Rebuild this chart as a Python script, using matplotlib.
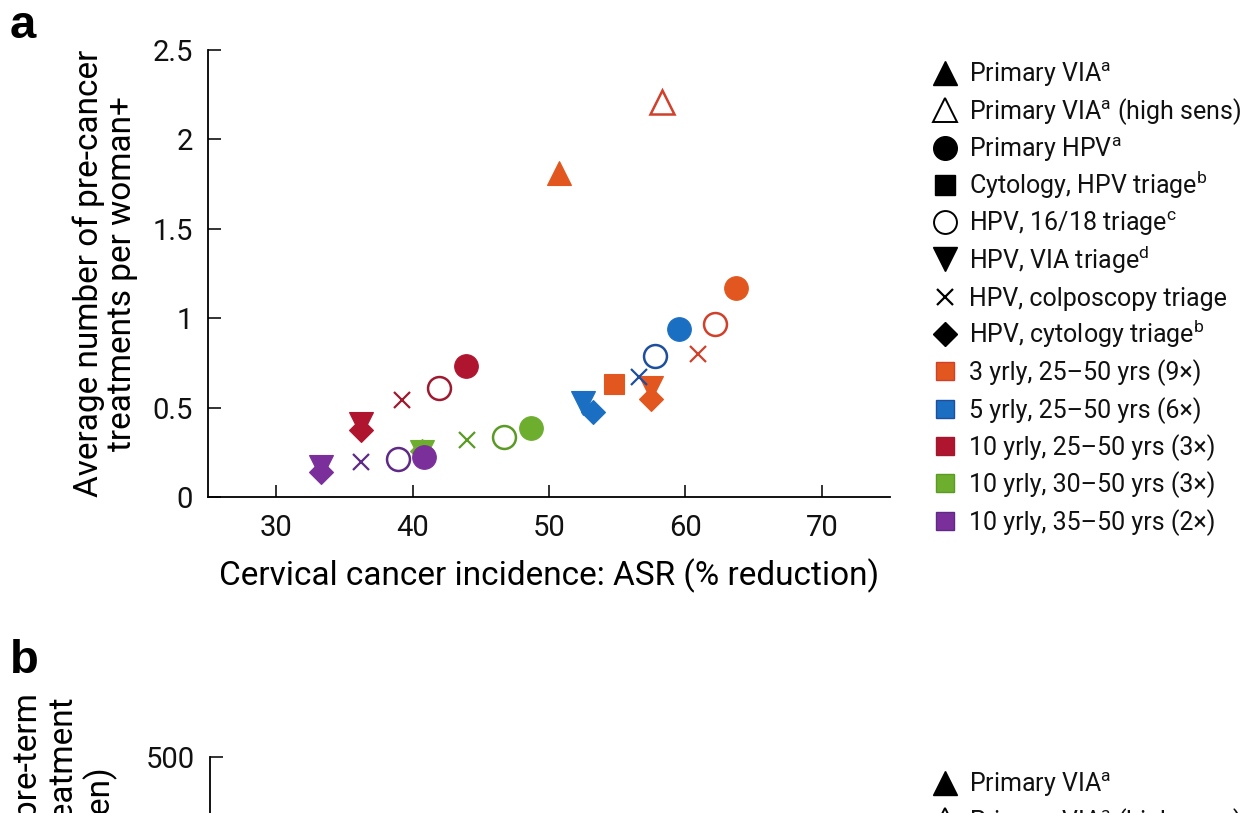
import numpy as np
import matplotlib
matplotlib.use("Agg")
import matplotlib.pyplot as plt

plt.rcParams['font.family'] = ['Roboto', 'DejaVu Sans']
plt.rcParams['mathtext.fontset'] = 'custom'
plt.rcParams['mathtext.rm'] = 'Roboto'
plt.rcParams['mathtext.it'] = 'Roboto'

# -------------------------------------------
# Data
# -------------------------------------------
schedules = ["3 yrly, 25\u201350 yrs (9\u00d7)", "5 yrly, 25\u201350 yrs (6\u00d7)",
             "10 yrly, 25\u201350 yrs (3\u00d7)", "10 yrly, 30\u201350 yrs (3\u00d7)",
             "10 yrly, 35\u201350 yrs (2\u00d7)"]
sched_fill = ["#E2571F", "#1B6FC3", "#B0152F", "#6DAE2F", "#7B2F9B"]
sched_edge = ["#D0402A", "#1E4F9E", "#9E1A2E", "#5A9A25", "#5E2A85"]

strategies = ["Primary VIA$^{\\mathrm{a}}$", "Primary VIA$^{\\mathrm{a}}$ (high sens)",
              "Primary HPV$^{\\mathrm{a}}$", "Cytology, HPV triage$^{\\mathrm{b}}$",
              "HPV, 16/18 triage$^{\\mathrm{c}}$", "HPV, VIA triage$^{\\mathrm{d}}$",
              "HPV, colposcopy triage", "HPV, cytology triage$^{\\mathrm{b}}$"]
strat_marker = ["^", "^", "o", "s", "o", "v", "x", "D"]
strat_open = [False, True, False, False, True, False, False, False]
strat_size = [17, 17, 17, 14, 16.5, 17, 11, 12]

# each point: schedule index, strategy index, ASR % reduction, treatments per woman
pt_sched = [0, 0, 0, 0, 0, 0, 0, 0,
            1, 1, 1, 1, 1,
            2, 2, 2, 2, 2,
            3, 3, 3, 3, 3,
            4, 4, 4, 4, 4]
pt_strat = [0, 1, 2, 3, 4, 5, 6, 7,
            2, 4, 6, 5, 7,
            2, 4, 6, 5, 7,
            5, 7, 2, 4, 6,
            2, 4, 6, 5, 7]
pt_x = [50.7, 58.3, 63.7, 54.8, 62.2, 57.5, 60.9, 57.5,
        59.5, 57.8, 56.6, 52.5, 53.2,
        43.9, 41.9, 39.2, 36.2, 36.2,
        40.7, 40.7, 48.7, 46.7, 44.0,
        40.8, 38.9, 36.2, 33.3, 33.3]
pt_y = [1.81, 2.21, 1.17, 0.63, 0.97, 0.61, 0.80, 0.55,
        0.94, 0.79, 0.67, 0.525, 0.475,
        0.73, 0.61, 0.54, 0.41, 0.375,
        0.25, 0.26, 0.385, 0.335, 0.32,
        0.225, 0.21, 0.195, 0.17, 0.14]

# -------------------------------------------
# Figure
# -------------------------------------------
W, H = 1250, 813
fig = plt.figure(figsize=(W / 100, H / 100), dpi=100)

ax = fig.add_axes([208 / W, 1 - 497 / H, (890 - 208) / W, (497 - 50) / H])
for s, k, x, y in zip(pt_sched, pt_strat, pt_x, pt_y):
    m = strat_marker[k]
    if m == "x":
        ax.plot(x, y, m, ms=strat_size[k], mew=1.6, color=sched_edge[s])
    elif strat_open[k]:
        ax.plot(x, y, m, ms=strat_size[k], mew=1.8, mfc="white", mec=sched_edge[s])
    else:
        ax.plot(x, y, m, ms=strat_size[k], mew=0.8, mfc=sched_fill[s], mec=sched_fill[s])

ax.set_xlim(25, 75)
ax.set_ylim(0, 2.5)
ax.set_xticks([30, 40, 50, 60, 70])
ax.set_yticks([0, 0.5, 1, 1.5, 2, 2.5])
ax.set_yticklabels(["0", "0.5", "1", "1.5", "2", "2.5"])
for sp in ["top", "right"]:
    ax.spines[sp].set_visible(False)
for sp in ["left", "bottom"]:
    ax.spines[sp].set_linewidth(1.3)
ax.tick_params(direction="in", length=9, width=1.2, labelsize=21, colors="#111111")
ax.tick_params(axis="x", pad=12)
ax.tick_params(axis="y", pad=11)
ax.set_xlabel("Cervical cancer incidence: ASR (% reduction)", fontsize=24, labelpad=12)
ax.set_ylabel("Average number of pre-cancer\ntreatments per woman+", fontsize=24,
              labelpad=10, linespacing=1.05)

# legend drawn on an overlay axes in pixel coordinates
lax = fig.add_axes([0, 0, 1, 1])
lax.set_xlim(0, W)
lax.set_ylim(H, 0)
lax.axis("off")

row0, dy = 73, 37.3
for i, lab in enumerate(strategies):
    yy = row0 + i * dy
    m = strat_marker[i]
    if m == "x":
        lax.plot(945, yy, m, ms=strat_size[i], mew=1.6, color="black")
    elif strat_open[i]:
        lax.plot(945, yy, m, ms=strat_size[i], mew=1.4, mfc="white", mec="black")
    else:
        lax.plot(945, yy, m, ms=strat_size[i], mfc="black", mec="black")
    lax.text(969, yy + 9, lab, fontsize=18, va="baseline", ha="left", color="#111111")
for j, lab in enumerate(schedules):
    yy = row0 + (len(strategies) + j) * dy
    lax.plot(945, yy, "s", ms=13.5, mfc=sched_fill[j], mec=sched_edge[j], mew=1.0)
    lax.text(969, yy + 9, lab, fontsize=18, va="baseline", ha="left", color="#111111")

# panel labels
fig.text(10 / W, 1 - 38 / H, "a", fontsize=34, fontweight="bold", family="Liberation Sans")
fig.text(10 / W, 1 - 673 / H, "b", fontsize=34, fontweight="bold", family="Liberation Sans")

# -------------------------------------------
# Panel b (only its top is in view)
# -------------------------------------------
axb = fig.add_axes([210 / W, -0.45, 0.55, 0.45 + 1 - 757 / H])
axb.set_ylim(0, 500)
axb.set_yticks([0, 100, 200, 300, 400, 500])
axb.set_xticks([])
for sp in ["top", "right", "bottom"]:
    axb.spines[sp].set_visible(False)
axb.spines["left"].set_linewidth(1.3)
axb.tick_params(direction="in", length=9, width=1.2, labelsize=21, colors="#111111", pad=11)
axb.patch.set_alpha(0)

b_ylabel = ["Number of pre-term", "births per treatment", "(per 100,000 women)"]
b_tops = [693, 697, 767]
b_xs = [28, 64, 101]
for txt, top, xx in zip(b_ylabel, b_tops, b_xs):
    fig.text(xx / W, 1 - top / H, txt, rotation=90, fontsize=24, ha="center", va="top")

for i in range(2):
    yy = 783 + i * dy
    m = strat_marker[i]
    if strat_open[i]:
        lax.plot(945, yy, m, ms=strat_size[i], mew=1.4, mfc="white", mec="black")
    else:
        lax.plot(945, yy, m, ms=strat_size[i], mfc="black", mec="black")
    lax.text(969, yy + 9, strategies[i], fontsize=18, va="baseline", ha="left", color="#111111")

fig.savefig("out.png", dpi=100)
